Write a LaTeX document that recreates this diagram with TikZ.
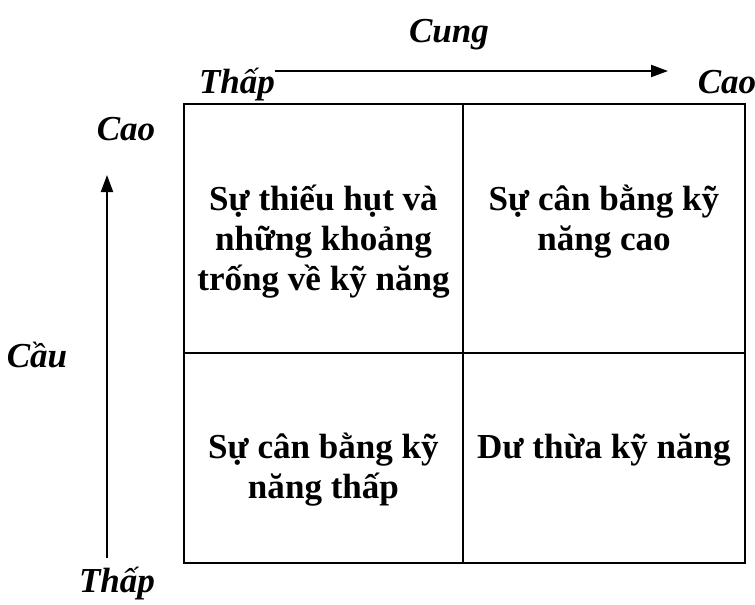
\documentclass[tikz,border=0pt]{standalone}
\usepackage{fontspec}
\setmainfont{Liberation Serif}
\usetikzlibrary{arrows.meta}
\begin{document}
\begin{tikzpicture}[x=0.75pt,y=-0.75pt,
  axislabel/.style={font=\fontsize{26.3}{30}\selectfont\bfseries\itshape, inner sep=0pt, anchor=base},
  celltext/.style={font=\fontsize{26.3}{30}\selectfont\bfseries, align=center, inner sep=0pt, anchor=base},
  gridline/.style={line width=1.5pt},
  axisarrow/.style={line width=1.5pt, -{Triangle[length=12.75pt,width=9pt]}}]
\useasboundingbox (0,0) rectangle (755,604);

% quadrant grid
\draw[gridline] (184,104) rectangle (745,563);
\draw[gridline] (463,104) -- (463,563);
\draw[gridline] (184,353) -- (745,353);

% quadrant contents (base = baseline of the last line)
\node[celltext] (tl) at (323.5,290) {Sự thiếu hụt và\\những khoảng\\trống về kỹ năng};
\node[celltext] (tr) at (604,250) {Sự cân bằng kỹ\\năng cao};
\node[celltext] (bl) at (323.5,498) {Sự cân bằng kỹ\\năng thấp};
\node[celltext] (br) at (604,458) {Dư thừa kỹ năng};

% supply axis (horizontal)
\node[axislabel] (cung) at (449,42) {Cung};
\node[axislabel] (xlow) at (237,93) {Thấp};
\node[axislabel] (xhigh) at (727,93) {Cao};
\coordinate (xs) at (275,71);
\coordinate (xe) at (668,71);
\draw[axisarrow] (xs) -- (xe);

% demand axis (vertical)
\node[axislabel] (yhigh) at (126,140) {Cao};
\node[axislabel] (cau) at (37,367) {Cầu};
\node[axislabel] (ylow) at (117,592) {Thấp};
\coordinate (ys) at (107,558);
\coordinate (ye) at (107,175);
\draw[axisarrow] (ys) -- (ye);
\end{tikzpicture}
\end{document}
